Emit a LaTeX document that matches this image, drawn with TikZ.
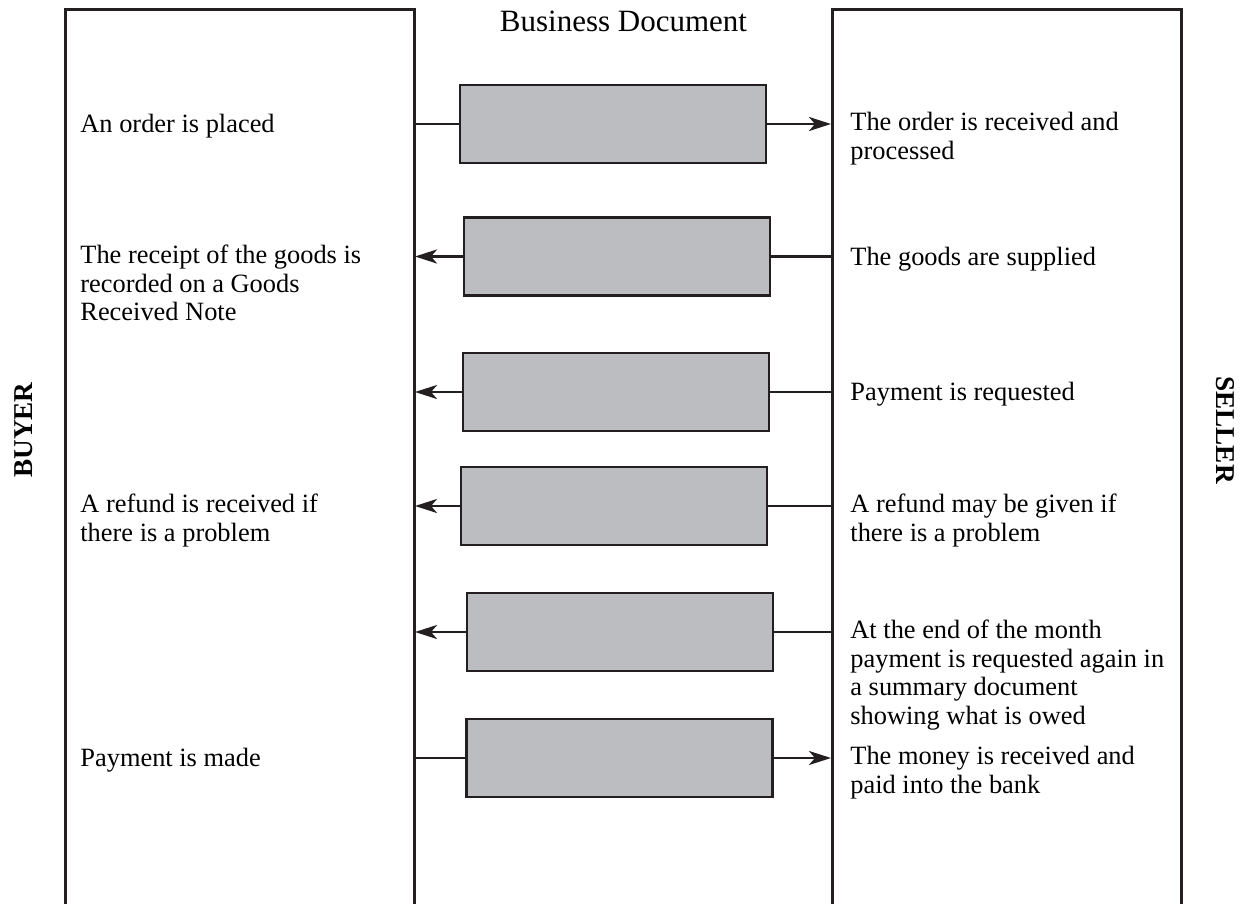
\documentclass[tikz,border=0pt]{standalone}
\usepackage{fontspec}
\setmainfont{Liberation Serif}
\usetikzlibrary{arrows.meta}

\definecolor{docgray}{RGB}{188,189,192}
\definecolor{ink}{RGB}{35,31,32}

\tikzset{
    panel/.style={draw=ink, line width=1.5pt},
    docbox/.style={draw=ink, line width=1.3pt, fill=docgray, minimum width=153pt, minimum height=39pt, inner sep=0pt},
    flow/.style={draw=ink, line width=1.4pt},
    sendto/.style={flow, -{Stealth[length=11pt,width=7pt,inset=3pt]}, shorten >=0.5pt},
    note/.style={anchor=north west, align=left, inner sep=0pt, font=\fontsize{13.2}{14.25}\selectfont, execute at begin node=\strut},
    side/.style={font=\fontsize{13.6}{16}\selectfont\bfseries, inner sep=0pt},
}

\begin{document}
\begin{tikzpicture}[x=0.5pt,y=-0.5pt]
        \useasboundingbox (0,0) rectangle (1247,904);

        % buyer and seller columns
        \draw[panel] (65,904) -- (65,10) -- (414,10) -- (414,904);
        \draw[panel] (832,904) -- (832,10) -- (1181,10) -- (1181,904);
        \coordinate (buyerR) at (414,0);
        \coordinate (sellerL) at (832,0);

        \node[font=\fontsize{15.5}{18}\selectfont, anchor=base, inner sep=0pt] (title) at (623.5,32) {Business Document};
        \node[side, rotate=90] (buyer) at (24,430) {BUYER};
        \node[side, rotate=-90] (seller) at (1225,430) {SELLER};

        % documents
        \node[docbox] (doc1) at (613,124) {};
        \node[docbox] (doc2) at (617,256.5) {};
        \node[docbox] (doc3) at (616,392) {};
        \node[docbox] (doc4) at (614,506) {};
        \node[docbox] (doc5) at (620,632) {};
        \node[docbox] (doc6) at (619.5,758) {};

        \draw[flow] (doc1.west -| buyerR) -- (doc1.west);
        \draw[sendto] (doc1.east) -- (doc1.east -| sellerL);
        \draw[flow] (doc2.east -| sellerL) -- (doc2.east);
        \draw[sendto] (doc2.west) -- (doc2.west -| buyerR);
        \draw[flow] (doc3.east -| sellerL) -- (doc3.east);
        \draw[sendto] (doc3.west) -- (doc3.west -| buyerR);
        \draw[flow] (doc4.east -| sellerL) -- (doc4.east);
        \draw[sendto] (doc4.west) -- (doc4.west -| buyerR);
        \draw[flow] (doc5.east -| sellerL) -- (doc5.east);
        \draw[sendto] (doc5.west) -- (doc5.west -| buyerR);
        \draw[flow] (doc6.west -| buyerR) -- (doc6.west);
        \draw[sendto] (doc6.east) -- (doc6.east -| sellerL);

        % buyer side
        \node[note] (b1) at (80,112) {An order is placed};
        \node[note] (b2) at (80,245) {The receipt of the goods is\\recorded on a Goods\\Received Note};
        \node[note] (b4) at (80,494) {A refund is received if\\there is a problem};
        \node[note] (b6) at (80,746) {Payment is made};

        % seller side
        \node[note] (s1) at (850,112) {The order is received and\\processed};
        \node[note] (s2) at (850,245) {The goods are supplied};
        \node[note] (s3) at (850,380) {Payment is requested};
        \node[note] (s4) at (850,494) {A refund may be given if\\there is a problem};
        \node[note] (s5) at (850,620) {At the end of the month\\payment is requested again in\\a summary document\\showing what is owed};
        \node[note] (s6) at (850,746) {The money is received and\\paid into the bank};

\end{tikzpicture}
\end{document}
